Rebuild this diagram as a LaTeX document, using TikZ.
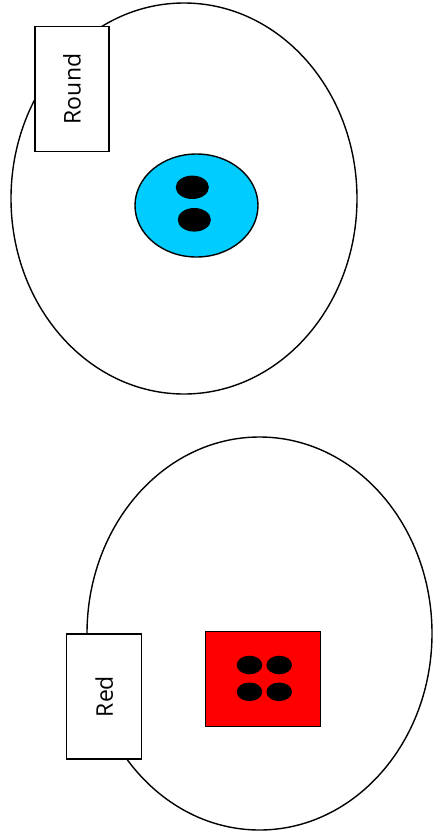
\documentclass[tikz,border=0pt]{standalone}
\usepackage{fontspec}
\setmainfont{Open Sans}
\begin{document}
\begin{tikzpicture}[x=1pt,y=-1pt,line width=1.4pt,
  big/.style={draw=black,fill=white},
  label/.style={draw=black,fill=white,minimum width=74pt,minimum height=125pt,inner sep=0pt},
  labeltxt/.style={rotate=90,font=\fontsize{23}{27}\selectfont},
  dot/.style={fill=black}]
\useasboundingbox (0,0) rectangle (432,838);
% top group
\path[big] (184,198.5) ellipse [x radius=173, y radius=195.5];
\node[label] (round) at (72,89) {};
\node[labeltxt] (roundtxt) at (round.center) {Round};
\path[draw=black,fill={rgb,255:red,0;green,204;blue,255}] (196.5,205.5) ellipse [x radius=61.5, y radius=51.5];
\path[dot] (192.3,187.3) ellipse [x radius=16.6, y radius=11.7];
\path[dot] (194.3,219.8) ellipse [x radius=16.6, y radius=11.8];
% bottom group
\path[big] (259.5,633.5) ellipse [x radius=172.5, y radius=196.5];
\node[label,minimum height=125pt,minimum width=75pt] (red) at (104.2,696.5) {};
\node[labeltxt] (redtxt) at (red.center) {Red};
\node[draw=black,fill=red,minimum width=115pt,minimum height=95pt,inner sep=0pt] (sq) at (263.2,679.2) {};
\path[dot] (249.5,665) ellipse [x radius=12.8, y radius=9.3];
\path[dot] (279.2,665) ellipse [x radius=12.8, y radius=9.3];
\path[dot] (249.5,691.8) ellipse [x radius=12.8, y radius=9.3];
\path[dot] (279.2,691.8) ellipse [x radius=12.8, y radius=9.3];
\end{tikzpicture}
\end{document}
